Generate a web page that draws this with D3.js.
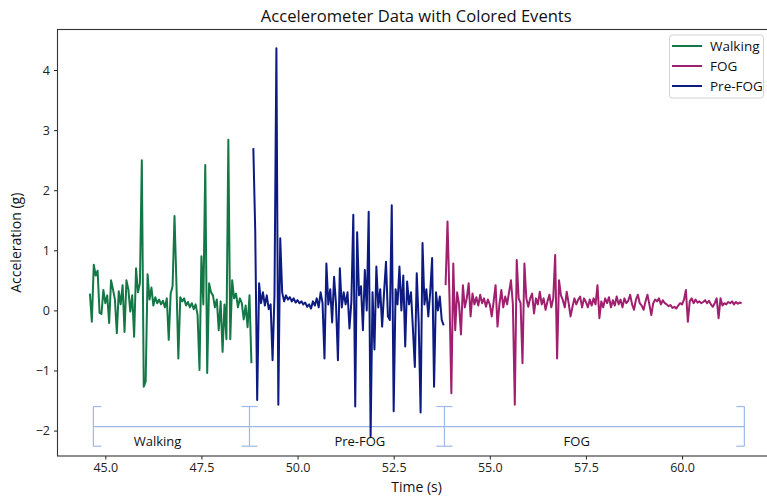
<!DOCTYPE html>
<html><head><meta charset="utf-8">
<script src="https://cdn.jsdelivr.net/npm/d3@7"></script>
<style>body{margin:0;background:#fff;} svg{display:block;overflow:hidden;}</style>
</head><body><svg id="c" width="767" height="496"></svg>
<script>
// ---- data ----
const sampleStep = 0.05;
const walkingStart = 44.60;
const preFogStart = 48.85;
const fogStart = 53.85;
const walkingValues = [0.28,-0.19,0.76,0.58,0.66,-0.04,-0.06,0.34,0.12,0.25,
 -0.21,0.50,0.35,0.18,-0.38,0.32,0.10,0.42,-0.36,0.50,
 0.35,-0.02,0.25,-0.44,0.70,0.30,0.45,2.50,-1.27,-1.18,
 0.60,0.18,0.38,0.08,0.22,0.12,0.18,0.10,0.16,0.05,
 0.20,-0.49,0.28,0.40,1.57,0.45,-0.80,0.22,0.15,0.20,
 0.08,0.14,0.05,0.12,0.02,0.10,-0.08,-0.99,0.90,0.10,
 2.42,-1.04,0.45,0.30,0.25,0.05,0.18,-0.33,0.15,-0.69,
 0.10,-0.48,2.84,-0.48,0.50,0.20,0.28,0.05,0.20,0.12,
 -0.15,0.08,-0.28,0.25,-0.88];
const preFogValues = [2.70,1.30,-1.49,0.45,0.12,0.30,0.08,0.25,0.02,0.10,
 -0.83,0.25,4.36,-1.57,1.20,0.30,0.15,0.25,0.18,0.22,
 0.15,0.20,0.13,0.17,0.12,0.15,0.10,0.13,0.06,0.10,
 0.03,0.15,0.08,0.20,0.05,0.30,0.12,-0.80,0.78,0.10,
 0.35,-0.20,0.56,0.10,-0.83,0.70,0.05,0.30,0.10,0.30,
 -0.30,0.15,1.59,-1.60,1.30,0.25,0.40,-0.33,0.67,0.00,
 1.64,-2.10,0.30,-0.65,0.73,0.05,0.35,-0.27,0.30,0.81,
 -0.10,-0.16,1.75,-1.68,0.35,0.10,0.73,0.00,0.58,-0.60,
 0.48,0.10,0.30,-0.30,-0.94,0.62,-0.20,-1.70,1.12,0.10,
 0.35,-0.10,0.30,0.87,-1.27,0.30,0.00,0.23,-0.16,-0.25];
const fogValues = [0.42,1.48,0.25,-1.38,0.78,-0.33,0.30,0.10,-0.40,0.42,
 0.05,0.20,0.45,-0.10,0.28,0.10,0.22,0.08,0.26,0.12,
 0.20,0.06,0.18,0.10,-0.10,0.15,0.42,-0.27,0.10,0.34,
 0.05,0.23,0.10,0.30,0.50,0.10,-1.57,0.84,0.20,0.12,
 -0.88,0.78,0.20,0.06,0.20,0.28,-0.05,0.20,0.10,0.31,
 0.10,0.20,0.01,0.15,0.26,0.05,0.20,0.92,-0.80,0.50,
 0.25,0.17,0.05,0.31,0.12,-0.10,0.06,0.20,0.10,0.18,
 0.23,0.05,0.20,0.14,0.05,0.18,0.08,0.20,0.10,0.42,
 -0.13,0.15,0.05,0.20,0.12,0.22,0.05,0.17,0.08,0.23,
 0.10,0.18,0.05,0.20,0.12,0.16,0.26,0.10,0.01,0.18,
 0.26,0.12,0.08,0.01,0.15,0.26,0.10,-0.08,0.12,0.18,
 0.15,0.20,0.10,0.17,0.12,0.10,0.07,0.09,0.04,0.06,
 0.03,0.08,0.12,0.10,0.18,0.34,-0.19,0.15,0.20,0.12,
 0.18,0.13,0.15,0.12,0.14,0.17,0.12,0.16,0.10,0.06,
 0.12,0.20,-0.13,0.20,0.08,0.12,0.10,0.14,0.12,0.15,
 0.10,0.14,0.11,0.13,0.12];
const xTicks = [45, 47.5, 50, 52.5, 55, 57.5, 60];
const yTicks = [-2, -1, 0, 1, 2, 3, 4];
const eventNames = ["Walking", "Pre-FOG", "FOG"];
const eventBounds = [44.69, 48.75, 53.82, 61.62];
const eventLabelX = [46.36, 51.62, 57.26];
const bracketLevels = [-1.60, -1.935, -2.26];
const legendNames = ["Walking", "FOG", "Pre-FOG"];

// ---- styles ----
const colors = {"Walking": "#137845", "FOG": "#a01f6e", "Pre-FOG": "#0c1a82"};
const FONT = "'Open Sans', 'Noto Sans', sans-serif";
const bracketColor = "#9fb8e8";

const svg = d3.select("#c");
const L = 57.5, R = 775, T = 29.5, B = 456;
const x = d3.scaleLinear().domain([43.757, 62.417]).range([L, R]);
const y = d3.scaleLinear().domain([-2.423, 4.674]).range([B, T]);

// brackets
const bg = svg.append("g").attr("stroke", bracketColor).attr("stroke-width", 1.2).attr("fill", "none");
bg.append("line").attr("x1", x(eventBounds[0])).attr("x2", x(eventBounds[eventBounds.length-1]))
  .attr("y1", y(bracketLevels[1])).attr("y2", y(bracketLevels[1]));
const cap = 8;
eventBounds.forEach((b, i) => {
  bg.append("line").attr("x1", x(b)).attr("x2", x(b)).attr("y1", y(bracketLevels[0])).attr("y2", y(bracketLevels[2]));
  const left = i > 0 ? -cap : 0, right = i < eventBounds.length - 1 ? cap : 0;
  [bracketLevels[0], bracketLevels[2]].forEach(lv => {
    bg.append("line").attr("x1", x(b) + left).attr("x2", x(b) + right).attr("y1", y(lv)).attr("y2", y(lv));
  });
});

// data lines
const series = [
  {name: "Walking", start: walkingStart, values: walkingValues},
  {name: "Pre-FOG", start: preFogStart, values: preFogValues},
  {name: "FOG", start: fogStart, values: fogValues}
];
series.forEach(s => {
  const line = d3.line().x((d, i) => x(s.start + i * sampleStep)).y(d => y(d));
  svg.append("path").datum(s.values).attr("d", line).attr("fill", "none")
    .attr("stroke", colors[s.name]).attr("stroke-width", 2).attr("stroke-linejoin", "round");
});

// event labels
eventNames.forEach((n, i) => {
  svg.append("text").attr("x", x(eventLabelX[i])).attr("y", 445.5).attr("text-anchor", "middle")
    .attr("font-family", FONT).attr("font-size", 13).attr("fill", "#111").text(n);
});

// axes
const fmtY = d => d < 0 ? "\u2212" + Math.abs(d) : String(d);
const xa = svg.append("g").attr("transform", `translate(0,${B})`)
  .call(d3.axisBottom(x).tickValues(xTicks).tickFormat(d3.format(".1f")).tickSize(3.5).tickPadding(4));
const ya = svg.append("g").attr("transform", `translate(${L},0)`)
  .call(d3.axisLeft(y).tickValues(yTicks).tickFormat(fmtY).tickSize(3.5).tickPadding(4));
[xa, ya].forEach(a => {
  a.select(".domain").remove();
  a.selectAll("text").attr("font-family", FONT).attr("font-size", 12.5).attr("fill", "#222");
  a.selectAll("line").attr("stroke", "#222").attr("stroke-width", 1);
});
// frame
svg.append("rect").attr("x", L).attr("y", T).attr("width", R - L).attr("height", B - T)
  .attr("fill", "none").attr("stroke", "#333").attr("stroke-width", 1.1);

// title & labels
const title = svg.append("text").attr("x", (L + R) / 2).attr("y", 22).attr("text-anchor", "middle")
  .attr("font-family", FONT).attr("font-size", 16).attr("fill", "#111").text("Accelerometer Data with Colored Events");
const tw = title.node().getComputedTextLength();
title.attr("font-size", 16 * 311 / tw);
svg.append("text").attr("x", 416.5).attr("y", 492).attr("text-anchor", "middle")
  .attr("font-family", FONT).attr("font-size", 14).attr("fill", "#111").text("Time (s)");
svg.append("text").attr("transform", `translate(21,${(T + B) / 2}) rotate(-90)`).attr("text-anchor", "middle")
  .attr("font-family", FONT).attr("font-size", 14).attr("fill", "#111").text("Acceleration (g)");

// legend
const lg = svg.append("g");
lg.append("rect").attr("x", 669.5).attr("y", 35).attr("width", 94).attr("height", 63).attr("rx", 3)
  .attr("fill", "white").attr("fill-opacity", 0.85).attr("stroke", "#d3d3d3");
legendNames.forEach((n, i) => {
  const yy = 46 + i * 20;
  lg.append("line").attr("x1", 672).attr("x2", 702).attr("y1", yy).attr("y2", yy)
    .attr("stroke", colors[n]).attr("stroke-width", 2);
  lg.append("text").attr("x", 710).attr("y", yy + 4.5).attr("font-family", FONT).attr("font-size", 13.5)
    .attr("fill", "#111").text(n);
});
</script></body></html>
